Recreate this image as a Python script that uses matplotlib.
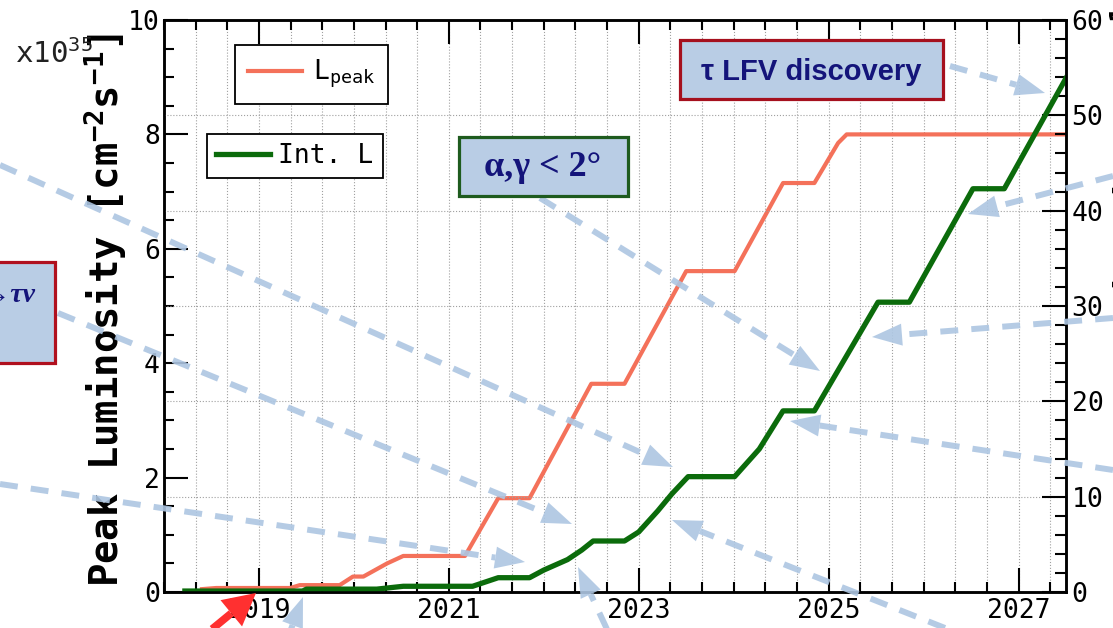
import matplotlib
matplotlib.use("Agg")
import matplotlib.pyplot as plt
import numpy as np
from matplotlib.lines import Line2D
from matplotlib.patches import Rectangle, Polygon
from matplotlib.ticker import MultipleLocator

# ---- data ----
lpeak_year = [2018.40, 2018.55, 2019.33, 2019.43, 2019.85, 2019.99, 2020.10, 2020.35, 2020.52,
              2021.17, 2021.52, 2021.85, 2022.50, 2022.85, 2023.50, 2024.01, 2024.52, 2024.85,
              2025.10, 2025.19, 2027.50]
lpeak = [0.05, 0.07, 0.07, 0.12, 0.12, 0.27, 0.27, 0.50, 0.63,
         0.63, 1.64, 1.64, 3.64, 3.64, 5.61, 5.61, 7.15, 7.15,
         7.85, 8.00, 8.00]

intl_year = [2018.22, 2019.46, 2019.50, 2020.24, 2020.52, 2021.25, 2021.52, 2021.85, 2022.00,
             2022.25, 2022.40, 2022.52, 2022.85, 2023.00, 2023.20, 2023.35, 2023.52, 2024.01,
             2024.27, 2024.52, 2024.85, 2025.52, 2025.85, 2026.52, 2026.85, 2027.50]
intl = [0.1, 0.1, 0.3, 0.3, 0.6, 0.6, 1.5, 1.5, 2.3,
        3.4, 4.4, 5.35, 5.35, 6.3, 8.5, 10.3, 12.1, 12.1,
        15.0, 19.0, 19.0, 30.4, 30.4, 42.3, 42.3, 53.9]

year_ticks = [2019, 2021, 2023, 2025, 2027]
year_labels = ["2019", "2021", "2023", "2025", "2027"]

RED = "#f4715a"
GREEN = "#0b6b0b"
ARROW = "#adc6e2"
BOXFILL = "#b9cde5"
NAVY = "#14147a"

plt.rcParams["font.family"] = ["DejaVu Sans Mono"]
plt.rcParams["mathtext.fontset"] = "custom"
plt.rcParams["mathtext.rm"] = "DejaVu Sans Mono"
plt.rcParams["mathtext.bf"] = "DejaVu Sans Mono:bold"
plt.rcParams["mathtext.it"] = "DejaVu Sans Mono:italic"

W, H = 1113, 628


def fx(x):
    return x / W


def fy(y):
    return 1 - y / H


fig = plt.figure(figsize=(W / 100, H / 100), dpi=100)
ax = fig.add_axes([fx(164), fy(592), (1066 - 164) / W, (592 - 20) / H])
ax2 = ax.twinx()

red_line, = ax.plot(lpeak_year, lpeak, color=RED, lw=3.0)
green_line, = ax2.plot(intl_year, intl, color=GREEN, lw=3.8)

ax.set_xlim(2018, 2027.5)
ax.set_ylim(0, 10)
ax2.set_ylim(0, 60)

ax.set_xticks(year_ticks, year_labels)
ax.xaxis.set_minor_locator(MultipleLocator(1 / 3))
ax.yaxis.set_major_locator(MultipleLocator(2))
ax.yaxis.set_minor_locator(MultipleLocator(0.5))
ax2.yaxis.set_major_locator(MultipleLocator(10))
ax2.yaxis.set_minor_locator(MultipleLocator(2))

ax.tick_params(which="both", direction="in", top=True, right=False, labelsize=19, width=1.5)
ax.tick_params(which="major", length=17)
ax.tick_params(which="minor", length=7)
ax.tick_params(axis="y", pad=3)
ax.tick_params(axis="x", pad=4)
ax2.tick_params(which="both", direction="in", labelsize=19, width=1.5, pad=4)
ax2.tick_params(which="major", length=17)
ax2.tick_params(which="minor", length=8)

for a in (ax, ax2):
    for s in a.spines.values():
        s.set_linewidth(1.8)

ax.grid(which="both", axis="x", ls=":", color="#a0a0a0", lw=0.8)
ax2.grid(which="major", axis="y", ls=":", color="#a0a0a0", lw=0.8)

ax.set_ylabel(r"Peak Luminosity [cm$^{\mathbf{-2}}$s$^{\mathbf{-1}}$]",
              fontsize=28, fontweight="bold", va="center", ha="center")
ax.yaxis.set_label_coords(-0.065, 0.493)
# right-hand label, mostly outside the cropped picture
ax2.set_ylabel(r"Integrated Luminosity [ab$^{\mathbf{-1}}$]",
               fontsize=28, fontweight="bold", va="top", ha="center")
ax2.yaxis.set_label_coords((1108 - 164) / 902, 0.5)

fig.text(fx(15), fy(63), r"x10$^{35}$", fontsize=21, va="baseline", color="#222222")

# legends
leg1 = ax2.legend([red_line], [r"L$_{\mathrm{peak}}$"], loc="upper left",
                  bbox_to_anchor=(fx(235), fy(45)), bbox_transform=fig.transFigure,
                  fontsize=19, fancybox=False, edgecolor="black", framealpha=1,
                  borderpad=0.5, handlelength=2.05, handletextpad=0.4, borderaxespad=0)
leg1.get_frame().set_linewidth(1.3)
ax2.add_artist(leg1)
leg2 = ax2.legend([green_line], ["Int. L"], loc="upper left",
                  bbox_to_anchor=(fx(207), fy(134)), bbox_transform=fig.transFigure,
                  fontsize=19, fancybox=False, edgecolor="black", framealpha=1,
                  borderpad=0.35, handlelength=2.05, handletextpad=0.3, borderaxespad=0)
leg2.get_frame().set_linewidth(1.3)


# overlay decorations (slide arrows and boxes), pixel positions
def arrow(x0, y0, x1, y1, color=ARROW, lw=4.3, hl=30, hw=11, dashed=True, alpha=0.9):
    d = np.hypot(x1 - x0, y1 - y0)
    ux, uy = (x1 - x0) / d, (y1 - y0) / d
    bx, by = x1 - hl * ux, y1 - hl * uy
    ls = (0, (3, 2.2)) if dashed else "-"
    fig.add_artist(Line2D([fx(x0), fx(bx)], [fy(y0), fy(by)], transform=fig.transFigure,
                          color=color, lw=lw, ls=ls, alpha=alpha, zorder=4,
                          solid_capstyle="butt", dash_capstyle="butt"))
    px, py = -uy, ux
    tri = [(x1, y1), (bx + hw * px, by + hw * py), (bx - hw * px, by - hw * py)]
    fig.add_artist(Polygon([(fx(a), fy(b)) for a, b in tri], closed=True,
                           transform=fig.transFigure, fc=color, ec="none",
                           alpha=alpha, zorder=4))


blue_arrows = [
    (950, 66, 1045, 93),
    (1113, 176, 968, 214),
    (1113, 318, 872, 337),
    (1113, 470, 790, 421),
    (0, 165, 673, 467),
    (58, 313, 572, 524),
    (0, 484, 525, 562),
    (540, 198, 820, 371),
    (945, 628, 672, 520),
    (612, 640, 578, 567),
    (287, 640, 303, 597),
]
for a in blue_arrows:
    arrow(*a)

arrow(150, 680, 256, 593, color="#ff3030", lw=5.5, hl=32, hw=17, dashed=False, alpha=1)


def box(x0, y0, x1, y1, edge):
    fig.add_artist(Rectangle((fx(x0), fy(y1)), fx(x1) - fx(x0), fy(y0) - fy(y1),
                             transform=fig.transFigure, fc=BOXFILL, ec=edge, lw=2.3, zorder=5))


box(680, 40, 943, 99, "#a5101e")
fig.text(fx(811), fy(72), "τ LFV discovery", family=["Liberation Sans"], fontweight="bold",
         fontsize=21, color=NAVY, ha="center", va="center", zorder=6)
box(459, 137, 628, 196, "#1e5b1e")
fig.text(fx(543), fy(168), "α,γ < 2°", family=["Liberation Serif"], fontweight="bold",
         fontsize=26, color=NAVY, ha="center", va="center", zorder=6)
box(-10, 262, 55, 363, "#b0101e")
fig.text(fx(35), fy(296), "B→τν", family=["Liberation Serif"], fontweight="bold",
         style="italic", fontsize=20, color=NAVY, ha="right", va="center", zorder=6)

fig.savefig("out.png", dpi=100)
